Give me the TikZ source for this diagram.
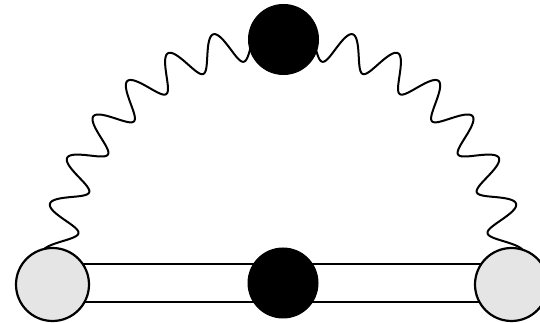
\documentclass[tikz,border=0pt]{standalone}
\begin{document}
\begin{tikzpicture}[x=1pt,y=1pt,
  ln/.style={line width=2.2pt,black},
  greyvertex/.style={circle,draw=black,line width=2.2pt,fill=gray!20,minimum size=73pt,inner sep=0pt},
  blob/.style={circle,fill=black,draw=black,line width=1pt,minimum size=70pt,inner sep=0pt},
  wave/.style={line width=2pt,black,line join=round}]
\useasboundingbox (0,0) rectangle (540,323);
\clip (0,0) rectangle (540,323);
\coordinate (cL) at (52.5,38.5);
\coordinate (cR) at (511.5,38.5);
\coordinate (cM) at (283,40);
\coordinate (cT) at (283.5,283.5);
% photon (wavy) line
\draw[wave] plot[variable=\t,domain=177:90,samples=400,smooth]
  ({283+(224+17*cos((177-\t)*30.769))*cos(\t)},{58+(224+17*cos((177-\t)*30.769))*sin(\t)});
\draw[wave] plot[variable=\t,domain=3:90,samples=400,smooth]
  ({283+(224+17*cos((\t-3)*30.769))*cos(\t)},{58+(224+17*cos((\t-3)*30.769))*sin(\t)});
% double line
\draw[ln] ([yshift=20.5pt]cL) -- ([yshift=20.5pt]cR);
\draw[ln] ([yshift=-17.5pt]cL) -- ([yshift=-17.5pt]cR);
% vertices
\node[greyvertex] (L) at (cL) {};
\node[greyvertex] (R) at (cR) {};
\node[blob] (M) at (cM) {};
\node[blob] (T) at (cT) {};
\end{tikzpicture}
\end{document}
